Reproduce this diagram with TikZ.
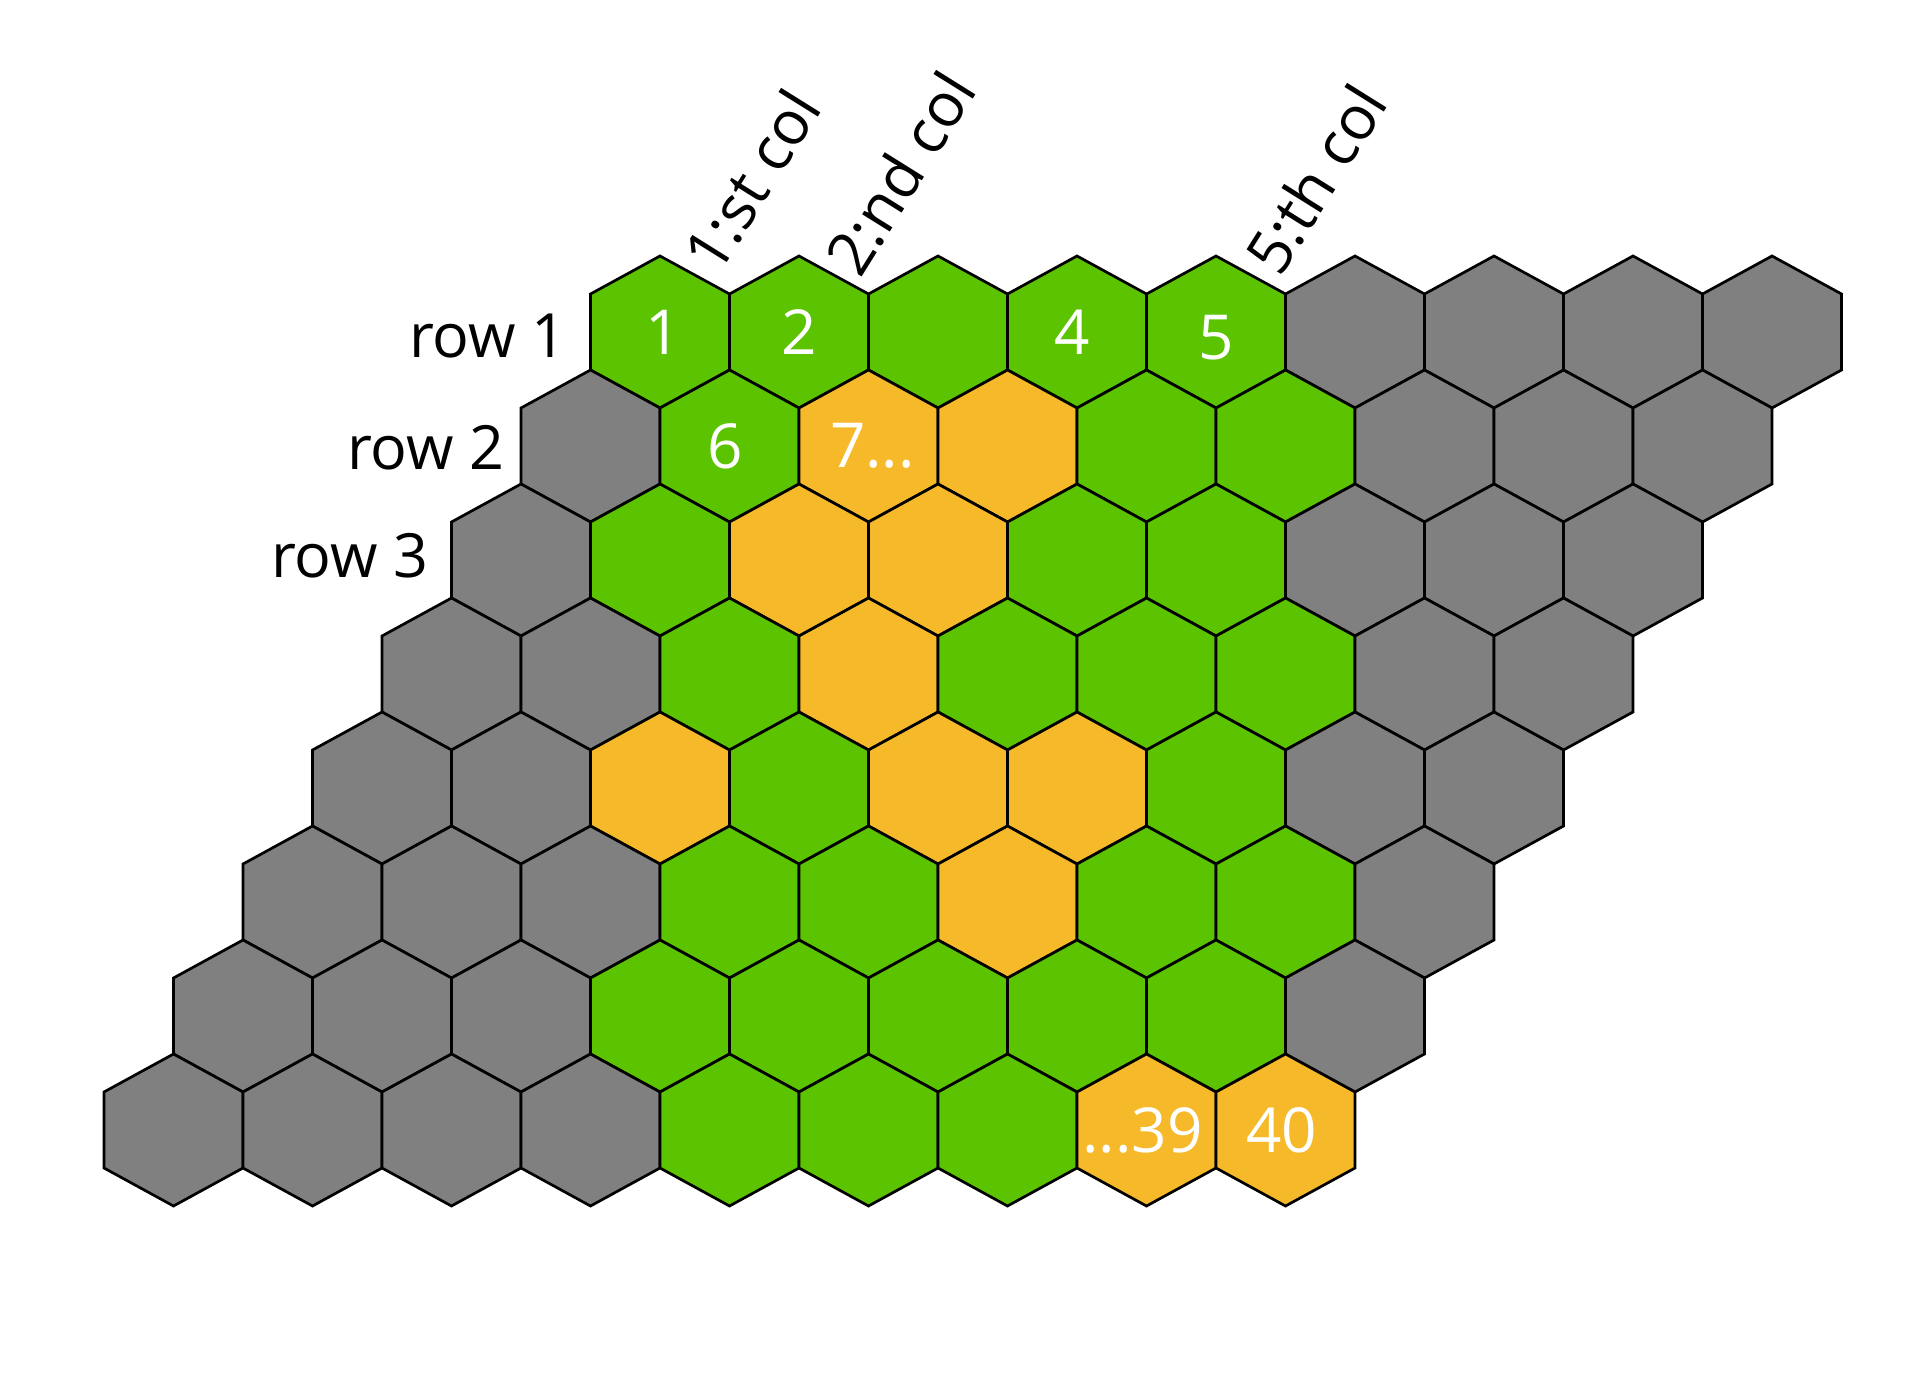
\documentclass[tikz,border=0pt]{standalone}
\usepackage{fontspec}
\setmainfont{Open Sans}
\definecolor{hexg}{RGB}{91,195,0}
\definecolor{hexo}{RGB}{246,185,41}
\definecolor{hexx}{RGB}{128,128,128}
\begin{document}
\begin{tikzpicture}[x=0.5pt,y=-0.5pt,
  hexcell/.style={draw=black,line width=1.35pt,line join=miter},
  num/.style={text=white,font=\fontsize{31}{31}\selectfont,inner sep=0pt},
  lab/.style={text=black,font=\fontsize{30.5}{30.5}\selectfont,inner sep=0pt},
  collab/.style={lab,anchor=base west,rotate=58}]
\useasboundingbox (0,0) rectangle (1920,1400);
\foreach \r/\codes in {1/{g,g,g,g,g,x,x,x,x},2/{x,g,o,o,g,g,x,x,x},3/{x,g,o,o,g,g,x,x,x},4/{x,x,g,o,g,g,g,x,x},5/{x,x,o,g,o,o,g,x,x},6/{x,x,x,g,g,o,g,g,x},7/{x,x,x,g,g,g,g,g,x},8/{x,x,x,x,g,g,g,o,o}}{
  \foreach \k [count=\c] in \codes {
    \pgfmathsetmacro\cx{660+(\c-1)*139-(\r-1)*69.5}
    \pgfmathsetmacro\cy{332+(\r-1)*114}
    \coordinate (h\r-\c) at (\cx,\cy);
    \filldraw[hexcell,fill=hex\k] (\cx,\cy) ++(0,-76) -- ++(69.5,38) -- ++(0,76) -- ++(-69.5,38) -- ++(-69.5,-38) -- ++(0,-76) -- cycle;
  }
}
% numbers
\node[num] (n1) at ([xshift=1.5pt]h1-1) {1};
\node[num] (n2) at (h1-2) {2};
\node[num] (n4) at ([xshift=-2.5pt]h1-4) {4};
\node[num] (n5) at ([yshift=-3pt]h1-5) {5};
\node[num] (n6) at ([xshift=-2pt]h2-2) {6};
\node[num] (n7) at ([xshift=2pt]h2-3) {7...};
\node[num] (n39) at ([xshift=-2pt]h8-8) {...39};
\node[num] (n40) at ([xshift=-2pt]h8-9) {40};
% row labels
\node[lab,anchor=base east] (r1) at (567,358) {row 1};
\node[lab,anchor=base east] (r2) at (505,470) {row 2};
\node[lab,anchor=base east] (r3) at (429,578) {row 3};
% column labels
\node[collab] (c1) at (718,277) {1:st col};
\node[collab] (c2) at (860,280) {2:nd col};
\node[collab] (c5) at (1280,279) {5:th col};
\end{tikzpicture}
\end{document}
